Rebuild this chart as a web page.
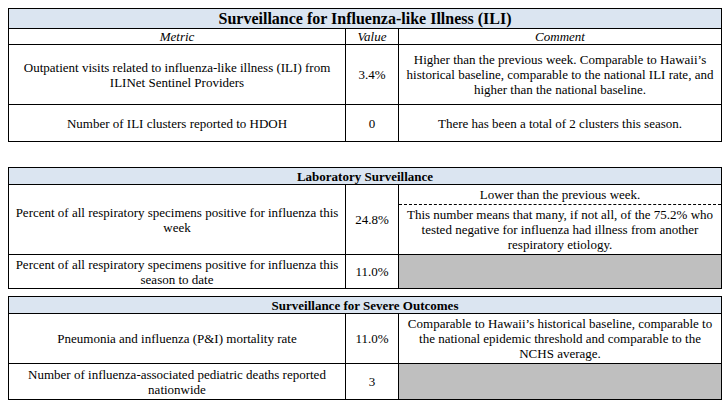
<!DOCTYPE html>
<html><head><meta charset="utf-8">
<script src="https://cdn.jsdelivr.net/npm/chart.js@4"></script>
<style>
body,table,td,th,div{font-family:"Liberation Serif","Tinos","Times New Roman","DejaVu Serif",serif;}
body{margin:0;background:#fff;color:#000;}
table{position:absolute;left:8px;width:713px;border-collapse:collapse;table-layout:fixed;}
td,th{border:1px solid #000;font-size:13px;text-align:center;vertical-align:middle;padding:0 4px;line-height:15px;}
th{background:#dbe5f1;font-weight:bold;}
.hdr td{font-style:italic;height:15px;}
.gray{background:#bfbfbf;}
.dash{border-bottom:1px dashed #000;}
</style></head><body>
<div id="root"></div>
<script>
// table content
const titles = ['Surveillance for Influenza-like Illness (ILI)', 'Laboratory Surveillance', 'Surveillance for Severe Outcomes'];
const headers = ['Metric', 'Value', 'Comment'];
const metrics = [
  ['Outpatient visits related to influenza-like illness (ILI) from ILINet Sentinel Providers', 'Number of ILI clusters reported to HDOH'],
  ['Percent of all respiratory specimens positive for influenza this week', 'Percent of all respiratory specimens positive for influenza this season to date'],
  ['Pneumonia and influenza (P&I) mortality rate', 'Number of influenza-associated pediatric deaths reported nationwide']
];
const values = [['3.4%', '0'], ['24.8%', '11.0%'], ['11.0%', '3']];
const comments = [
  ['Higher than the previous week. Comparable to Hawaii’s historical baseline, comparable to the national ILI rate, and higher than the national baseline.', 'There has been a total of 2 clusters this season.'],
  [['Lower than the previous week.', 'This number means that many, if not all, of the 75.2% who tested negative for influenza had illness from another respiratory etiology.'], null],
  ['Comparable to Hawaii’s historical baseline, comparable to the national epidemic threshold and comparable to the NCHS average.', null]
];
const tops = [8, 167, 296];
const titleH = [19, 16, 16];
const titleSize = [16, 13, 13];
const rowH = [[60, 37], [65, 34], [50, 36]];

const esc = s => s.replace(/&/g, '&amp;');
let html = '';
titles.forEach((t, i) => {
  html += `<table style="top:${tops[i]}px"><colgroup><col style="width:337px"><col style="width:53px"><col style="width:323px"></colgroup>`;
  html += `<tr><th colspan="3" style="height:${titleH[i]}px;font-size:${titleSize[i]}px">${esc(t)}</th></tr>`;
  if (i === 0) html += `<tr class="hdr"><td>${headers[0]}</td><td>${headers[1]}</td><td>${headers[2]}</td></tr>`;
  metrics[i].forEach((m, j) => {
    const c = comments[i][j];
    let cell;
    if (c === null) cell = `<td class="gray"></td>`;
    else if (Array.isArray(c)) cell = `<td style="padding:0"><div class="dash" style="padding:2px 4px">${c[0]}</div><div style="padding:2px 4px">${c[1]}</div></td>`;
    else cell = `<td>${c}</td>`;
    html += `<tr style="height:${rowH[i][j]}px"><td>${esc(m)}</td><td>${values[i][j]}</td>${cell}</tr>`;
  });
  html += '</table>';
});
document.getElementById('root').innerHTML = html;
</script>
</body></html>
